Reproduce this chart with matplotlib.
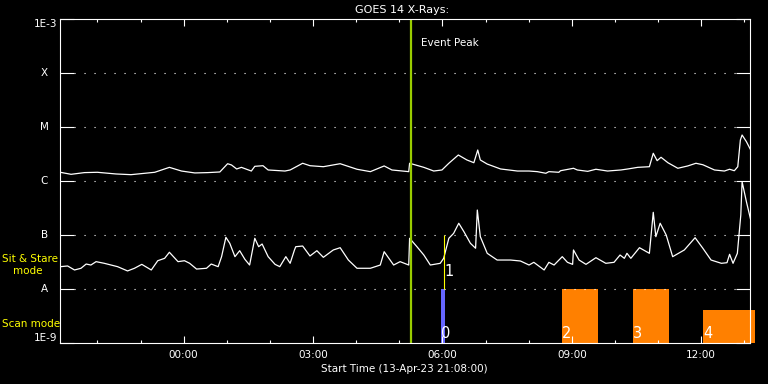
import numpy as np
import matplotlib
matplotlib.use("Agg")
import matplotlib.pyplot as plt
import matplotlib.transforms as mtransforms

# hours since 14-Apr-23 00:00 UT
t_long = [-2.86, -2.61, -2.30, -2.00, -1.57, -1.22, -0.67, -0.33, -0.05, 0.26, 0.56, 0.84,
          1.02, 1.11, 1.23, 1.34, 1.57, 1.65, 1.84, 1.96, 2.35, 2.47, 2.76, 2.93, 3.24, 3.63,
          4.02, 4.33, 4.65, 4.83, 5.22, 5.24, 5.57, 5.80, 5.99, 6.15, 6.37, 6.57, 6.73, 6.82,
          6.88, 7.04, 7.35, 7.74, 8.01, 8.20, 8.40, 8.47, 8.70, 8.74, 9.04, 9.13, 9.37, 9.56,
          9.83, 10.14, 10.30, 10.53, 10.80, 10.89, 10.98, 11.07, 11.23, 11.46, 11.69, 11.88,
          12.04, 12.31, 12.54, 12.66, 12.77, 12.85, 12.91, 12.95, 13.05, 13.15]
flux_long = [1.45e-6, 1.33e-6, 1.43e-6, 1.45e-6, 1.35e-6, 1.31e-6, 1.45e-6, 1.79e-6, 1.53e-6,
             1.41e-6, 1.43e-6, 1.47e-6, 2.09e-6, 1.98e-6, 1.67e-6, 1.79e-6, 1.53e-6, 1.87e-6,
             1.92e-6, 1.60e-6, 1.53e-6, 1.60e-6, 2.13e-6, 1.92e-6, 1.84e-6, 2.09e-6, 1.65e-6,
             1.49e-6, 1.90e-6, 1.60e-6, 1.49e-6, 2.13e-6, 1.79e-6, 1.53e-6, 1.60e-6, 2.13e-6,
             3.03e-6, 2.45e-6, 2.18e-6, 3.75e-6, 2.45e-6, 2.06e-6, 1.67e-6, 1.53e-6, 1.53e-6,
             1.49e-6, 1.39e-6, 1.49e-6, 1.45e-6, 1.55e-6, 1.72e-6, 1.60e-6, 1.51e-6, 1.65e-6,
             1.53e-6, 1.60e-6, 1.67e-6, 1.79e-6, 1.84e-6, 3.26e-6, 2.38e-6, 2.75e-6, 2.18e-6,
             1.72e-6, 1.90e-6, 2.13e-6, 2.00e-6, 1.60e-6, 1.53e-6, 1.65e-6, 1.55e-6, 1.84e-6,
             5.74e-6, 7.11e-6, 5.35e-6, 3.75e-6]

t_short = [-2.86, -2.69, -2.53, -2.38, -2.26, -2.15, -2.03, -1.84, -1.53, -1.30, -1.14, -0.97,
           -0.75, -0.60, -0.44, -0.33, -0.13, 0.02, 0.14, 0.30, 0.53, 0.64, 0.80, 0.88, 0.98,
           1.07, 1.19, 1.30, 1.42, 1.53, 1.65, 1.74, 1.82, 1.96, 2.12, 2.23, 2.37, 2.47, 2.57,
           2.60, 2.76, 2.93, 3.09, 3.24, 3.47, 3.63, 3.82, 4.02, 4.33, 4.56, 4.65, 4.87, 5.02,
           5.22, 5.24, 5.41, 5.57, 5.72, 5.95, 6.03, 6.15, 6.26, 6.38, 6.50, 6.65, 6.77, 6.81,
           6.88, 7.04, 7.27, 7.43, 7.58, 7.81, 8.01, 8.12, 8.36, 8.47, 8.59, 8.78, 8.90, 9.02,
           9.04, 9.17, 9.33, 9.56, 9.79, 9.98, 10.12, 10.22, 10.28, 10.37, 10.57, 10.80, 10.89,
           10.95, 11.05, 11.19, 11.34, 11.61, 11.86, 12.04, 12.23, 12.47, 12.60, 12.66, 12.74,
           12.84, 12.92, 12.95, 13.05, 13.16]
flux_short = [2.59e-8, 2.67e-8, 2.25e-8, 2.42e-8, 2.90e-8, 2.78e-8, 3.21e-8, 2.99e-8, 2.59e-8,
              2.16e-8, 2.42e-8, 2.86e-8, 2.25e-8, 3.34e-8, 3.70e-8, 4.79e-8, 3.21e-8, 3.34e-8,
              2.99e-8, 2.34e-8, 2.42e-8, 2.90e-8, 2.59e-8, 3.97e-8, 9.06e-8, 7.02e-8, 3.97e-8,
              5.12e-8, 3.55e-8, 2.78e-8, 8.69e-8, 6.07e-8, 6.81e-8, 3.97e-8, 2.86e-8, 2.59e-8,
              3.97e-8, 2.99e-8, 5.28e-8, 6.07e-8, 6.25e-8, 4.09e-8, 5.12e-8, 3.86e-8, 5.28e-8,
              5.82e-8, 3.44e-8, 2.42e-8, 2.42e-8, 2.78e-8, 4.91e-8, 2.78e-8, 3.21e-8, 2.78e-8,
              8.69e-8, 6.07e-8, 4.26e-8, 2.78e-8, 2.99e-8, 3.70e-8, 8.69e-8, 1.07e-7, 1.65e-7,
              1.15e-7, 7.02e-8, 5.68e-8, 2.90e-7, 9.31e-8, 4.58e-8, 3.44e-8, 3.44e-8, 3.44e-8,
              3.30e-8, 2.78e-8, 3.12e-8, 2.25e-8, 3.12e-8, 2.78e-8, 3.97e-8, 3.12e-8, 2.86e-8,
              5.28e-8, 3.44e-8, 2.86e-8, 3.80e-8, 2.99e-8, 3.12e-8, 4.26e-8, 3.70e-8, 4.58e-8,
              3.70e-8, 5.82e-8, 4.58e-8, 2.63e-7, 9.31e-8, 1.65e-7, 1.00e-7, 3.97e-8, 5.28e-8,
              8.91e-8, 5.68e-8, 3.44e-8, 2.99e-8, 3.07e-8, 4.39e-8, 2.99e-8, 4.58e-8, 2.35e-7,
              9.70e-7, 4.14e-7, 1.76e-7]

event_peak = 5.27

# observations: label, start, end, top
obs_labels = ["0", "2", "3", "4"]
obs_start = [5.97, 8.77, 10.42, 12.05]
obs_end = [6.05, 9.62, 11.25, 13.26]
obs_top = [1e-8, 1e-8, 1e-8, 4.1e-9]
obs_colors = ["#6666ff", "#ff8000", "#ff8000", "#ff8000"]
sit_label = "1"
sit_time = 6.03
sit_range = [1e-8, 1e-7]

class_levels = [1e-3, 1e-4, 1e-5, 1e-6, 1e-7, 1e-8, 1e-9]
class_names = ["1E-3", "X", "M", "C", "B", "A", "1E-9"]
hour_ticks = [0, 3, 6, 9, 12]
hour_labels = ["00:00", "03:00", "06:00", "09:00", "12:00"]
t0, t1 = -2.8667, 13.1333

fig = plt.figure(figsize=(7.68, 3.84), dpi=100, facecolor="black")
ax = fig.add_axes([60/768, 41/384, 690/768, 324/384], facecolor="black")
ax.set_yscale("log")
ax.set_xlim(t0, t1)
ax.set_ylim(1e-9, 1e-3)

for lv in class_levels[1:-1]:
    ax.axhline(lv, xmin=14/690, xmax=676/690, color="white", lw=0.8, ls=(0, (1, 8)))

ax.plot(t_long, flux_long, color="white", lw=0.9)
ax.plot(t_short, flux_short, color="white", lw=0.9)

ax.axvline(event_peak, color="#99cc00", lw=1.6)
ax.text(event_peak + 0.24, 3.6e-4, "Event Peak", color="white", fontsize=7.5, va="center")

for lab, s, e, top, c in zip(obs_labels, obs_start, obs_end, obs_top, obs_colors):
    ax.bar(s, top - 1e-9, width=e - s, bottom=1e-9, align="edge", color=c, clip_on=False)
    ax.text(s, 1.5e-9, lab, color="white", fontsize=10.5, va="center", ha="left")
ax.vlines(sit_time, sit_range[0], sit_range[1], color="yellow", lw=0.8)
ax.text(sit_time + 0.02, 2.1e-8, sit_label, color="white", fontsize=10.5, va="center", ha="left")

ax.set_xticks(hour_ticks)
ax.set_xticklabels(hour_labels)
ax.set_xticks(np.arange(-2, 14, 1), minor=True)
ax.tick_params(axis="x", which="major", direction="in", length=5, width=0.8,
               top=True, colors="white", labelsize=7.5, pad=5)
ax.tick_params(axis="x", which="minor", direction="in", length=2.5, width=0.8,
               top=True, colors="white")
ax.set_yticks(class_levels)
ax.set_yticklabels([])
ax.yaxis.set_minor_locator(matplotlib.ticker.NullLocator())
ax.tick_params(axis="y", which="major", direction="in", length=10, width=0.8,
               left=True, right=True, colors="white")

trans = mtransforms.blended_transform_factory(ax.transAxes, ax.transData)
for lv, name in zip(class_levels, class_names):
    if name.startswith("1E"):
        ax.text(-0.004, lv, name, transform=trans, color="white", fontsize=7.5,
                ha="right", va="top" if lv == 1e-3 else "bottom")
    else:
        ax.text(-0.023, lv, name, transform=trans, color="white", fontsize=7.5,
                ha="center", va="center")

for sp in ax.spines.values():
    sp.set_color("white")
    sp.set_linewidth(0.8)

fig.text(402/768, 1 - 10/384, "GOES 14 X-Rays:", color="white", fontsize=8, ha="center", va="center")
fig.text(404/768, 1 - 369/384, "Start Time (13-Apr-23 21:08:00)", color="white", fontsize=7.5,
         ha="center", va="center")
fig.text(2/768, 1 - 259/384, "Sit & Stare", color="yellow", fontsize=7.5, ha="left", va="center")
fig.text(13/768, 1 - 271/384, "mode", color="yellow", fontsize=7.5, ha="left", va="center")
fig.text(2/768, 1 - 324/384, "Scan mode", color="yellow", fontsize=7.5, ha="left", va="center")

fig.savefig("out.png", dpi=100, facecolor="black")
